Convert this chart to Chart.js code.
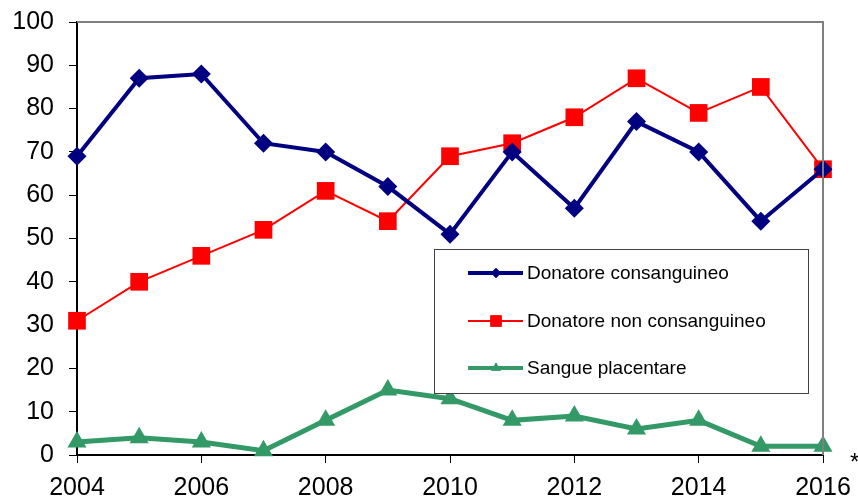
<!DOCTYPE html>
<html>
<head>
<meta charset="utf-8">
<script src="https://cdn.jsdelivr.net/npm/chart.js@4/dist/chart.umd.min.js"></script>
<style>
html,body{margin:0;padding:0;background:#fff;}
#wrap{width:858px;height:499px;position:relative;}
</style>
</head>
<body>
<div id="wrap"><canvas id="c" width="858" height="499"></canvas></div>
<script>
const years = [2004,2005,2006,2007,2008,2009,2010,2011,2012,2013,2014,2015,2016];
const consanguineo = [69,87,88,72,70,62,51,70,57,77,70,54,66];
const nonConsanguineo = [31,40,46,52,61,54,69,72,78,87,79,85,66];
const placentare = [3,4,3,1,8,15,13,8,9,6,8,2,2];
const seriesNames = ["Donatore consanguineo","Donatore non consanguineo","Sangue placentare"];
const yTicks = [0,10,20,30,40,50,60,70,80,90,100];

const BLUE = "#000080", RED = "#FF0000", GREEN = "#339966";
const FONT = "'Liberation Sans', Arial, sans-serif";

function pts(vals){ return years.map((y,i)=>({x:y,y:vals[i]})); }

const decor = {
  id:'decor',
  afterDraw(chart){
    const ctx = chart.ctx, a = chart.chartArea;
    ctx.save();
    // gray top & right frame
    ctx.strokeStyle = "#808080"; ctx.lineWidth = 2;
    ctx.beginPath();
    ctx.moveTo(a.left, a.top); ctx.lineTo(a.right, a.top); ctx.lineTo(a.right, a.bottom);
    ctx.stroke();
    // legend box
    const bx=434, by=249, bw=374, bh=144;
    ctx.fillStyle="#fff"; ctx.fillRect(bx,by,bw,bh);
    ctx.strokeStyle="#404040"; ctx.lineWidth=1;
    ctx.strokeRect(bx+0.5,by+0.5,bw,bh);
    const rows=[273,321,368];
    const cols=[BLUE,RED,GREEN], widths=[4,2,4], styles=['rectRot','rect','triangle'], radii=[5,8,5.5];
    for(let i=0;i<3;i++){
      const y=rows[i];
      ctx.strokeStyle=cols[i]; ctx.lineWidth=widths[i];
      ctx.beginPath(); ctx.moveTo(468,y); ctx.lineTo(523,y); ctx.stroke();
      ctx.fillStyle=cols[i];
      Chart.helpers.drawPoint(ctx,{pointStyle:styles[i],rotation:0,radius:radii[i],borderWidth:0},496,y);
      ctx.fill();
      ctx.fillStyle="#000"; ctx.font="19px "+FONT; ctx.textBaseline="middle"; ctx.textAlign="left";
      ctx.fillText(seriesNames[i],527,y+1);
    }
    // asterisk at far right
    ctx.font="24px "+FONT; ctx.fillStyle="#000"; ctx.textBaseline="middle";
    ctx.fillText("*",850,463);
    ctx.restore();
  }
};

new Chart(document.getElementById('c'),{
  type:'line',
  data:{datasets:[
    {label:seriesNames[0],data:pts(consanguineo),borderColor:BLUE,backgroundColor:BLUE,borderWidth:4,pointStyle:'rectRot',pointRadius:9.5,pointBorderWidth:0,pointHoverRadius:9.5,tension:0,clip:false},
    {label:seriesNames[1],data:pts(nonConsanguineo),borderColor:RED,backgroundColor:RED,borderWidth:2,pointStyle:'rect',pointRadius:12.5,pointBorderWidth:0,pointHoverRadius:12.5,tension:0,clip:false},
    {label:seriesNames[2],data:pts(placentare),borderColor:GREEN,backgroundColor:GREEN,borderWidth:5,pointStyle:'triangle',pointRadius:11,pointBorderWidth:0,pointHoverRadius:11,tension:0,clip:false}
  ]},
  options:{
    responsive:false,animation:false,
    layout:{padding:{left:0,right:35,top:22,bottom:0}},
    plugins:{legend:{display:false},tooltip:{enabled:false}},
    scales:{
      x:{type:'linear',min:2004,max:2016,
        afterFit(s){s.height=44;s.paddingLeft=0;s.paddingRight=0;},
        ticks:{stepSize:2,autoSkip:false,maxRotation:0,color:'#000',font:{family:FONT,size:25},padding:10,callback:v=>String(v)},
        grid:{drawOnChartArea:false,tickLength:8,color:'#000',lineWidth:1},
        border:{color:'#000',width:2}
      },
      y:{min:0,max:100,
        afterFit(s){s.width=77;s.paddingTop=0;s.paddingBottom=0;},
        afterBuildTicks(s){s.ticks=yTicks.map(v=>({value:v}));},
        ticks:{color:'#000',font:{family:FONT,size:25},padding:15},
        grid:{drawOnChartArea:false,tickLength:8,color:'#000',lineWidth:1},
        border:{color:'#000',width:2}
      }
    }
  },
  plugins:[decor]
});
</script>
</body>
</html>
